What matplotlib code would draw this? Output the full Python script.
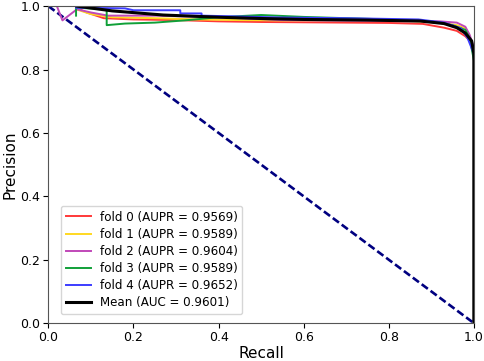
import matplotlib
matplotlib.use('Agg')
import matplotlib.pyplot as plt

# precision-recall points, one list pair per fold
fold0_recall = [0.065, 0.09, 0.13, 0.2, 0.3, 0.4, 0.5, 0.6, 0.7, 0.8, 0.88, 0.93, 0.96, 0.98, 0.995, 1.0]
fold0_prec = [0.995, 0.98, 0.962, 0.958, 0.956, 0.952, 0.95, 0.949, 0.948, 0.947, 0.944, 0.932, 0.922, 0.905, 0.885, 0.86]

fold1_recall = [0.065, 0.1, 0.15, 0.25, 0.35, 0.45, 0.55, 0.65, 0.75, 0.85, 0.92, 0.96, 0.98, 0.99, 1.0]
fold1_prec = [0.99, 0.975, 0.965, 0.962, 0.958, 0.956, 0.955, 0.955, 0.954, 0.953, 0.948, 0.94, 0.93, 0.905, 0.86]

fold2_recall = [0.02, 0.033, 0.067, 0.1, 0.14, 0.25, 0.4, 0.55, 0.7, 0.85, 0.92, 0.96, 0.98, 0.99, 1.0]
fold2_prec = [1.0, 0.955, 0.99, 0.98, 0.97, 0.97, 0.965, 0.956, 0.954, 0.953, 0.952, 0.948, 0.935, 0.91, 0.87]

fold3_recall = [0.065, 0.065, 0.137, 0.137, 0.18, 0.25, 0.32, 0.4, 0.5, 0.6, 0.7, 0.8, 0.9, 0.95, 0.98, 0.99, 1.0]
fold3_prec = [0.97, 0.995, 0.99, 0.94, 0.945, 0.948, 0.955, 0.965, 0.972, 0.966, 0.962, 0.958, 0.952, 0.94, 0.925, 0.9, 0.83]

fold4_recall = [0.065, 0.18, 0.2, 0.31, 0.31, 0.36, 0.36, 0.43, 0.55, 0.7, 0.87, 0.93, 0.97, 0.985, 1.0]
fold4_prec = [0.995, 0.993, 0.987, 0.987, 0.977, 0.977, 0.97, 0.968, 0.964, 0.962, 0.958, 0.948, 0.93, 0.9, 0.85]

mean_recall = [0.067, 0.15, 0.27, 0.4, 0.5, 0.6, 0.75, 0.874, 0.93, 0.96, 0.98, 0.995, 1.0, 1.0]
mean_prec = [1.0, 0.985, 0.972, 0.965, 0.961, 0.958, 0.956, 0.953, 0.945, 0.932, 0.915, 0.89, 0.85, 0.0]

fold_labels = ['fold 0 (AUPR = 0.9569)', 'fold 1 (AUPR = 0.9589)', 'fold 2 (AUPR = 0.9604)',
               'fold 3 (AUPR = 0.9589)', 'fold 4 (AUPR = 0.9652)']
mean_label = 'Mean (AUC = 0.9601)'
fold_colors = ['#ff3838', '#ffd820', '#c048b8', '#10a038', '#3c3cff']

folds = [(fold0_recall, fold0_prec), (fold1_recall, fold1_prec), (fold2_recall, fold2_prec),
         (fold3_recall, fold3_prec), (fold4_recall, fold4_prec)]

fig = plt.figure(figsize=(4.84, 3.61), dpi=100)
ax = fig.add_axes([0.1, 0.105, 0.879, 0.878])

ax.plot([0, 1], [1, 0], color='navy', lw=1.9, linestyle=(0, (2.9, 1.3)))
for (r, p), c, lab in zip(folds, fold_colors, fold_labels):
    ax.plot(r, p, color=c, lw=1.4, label=lab)
ax.plot(mean_recall, mean_prec, color='black', lw=2.2, label=mean_label)

ax.set_xlim(0, 1)
ax.set_ylim(0, 1)
ax.set_xlabel('Recall', fontsize=11, labelpad=1)
ax.set_ylabel('Precision', fontsize=11, labelpad=2)
ax.tick_params(labelsize=9, length=3.5, width=0.8, pad=2.5)
for s in ax.spines.values():
    s.set_color('#555555')
ax.legend(loc='lower left', bbox_to_anchor=(0.029, 0.028), borderaxespad=0,
          fontsize=8.6, labelspacing=0.35, handlelength=2.15, handletextpad=0.7,
          borderpad=0.4)

fig.savefig('out.png', dpi=100)
